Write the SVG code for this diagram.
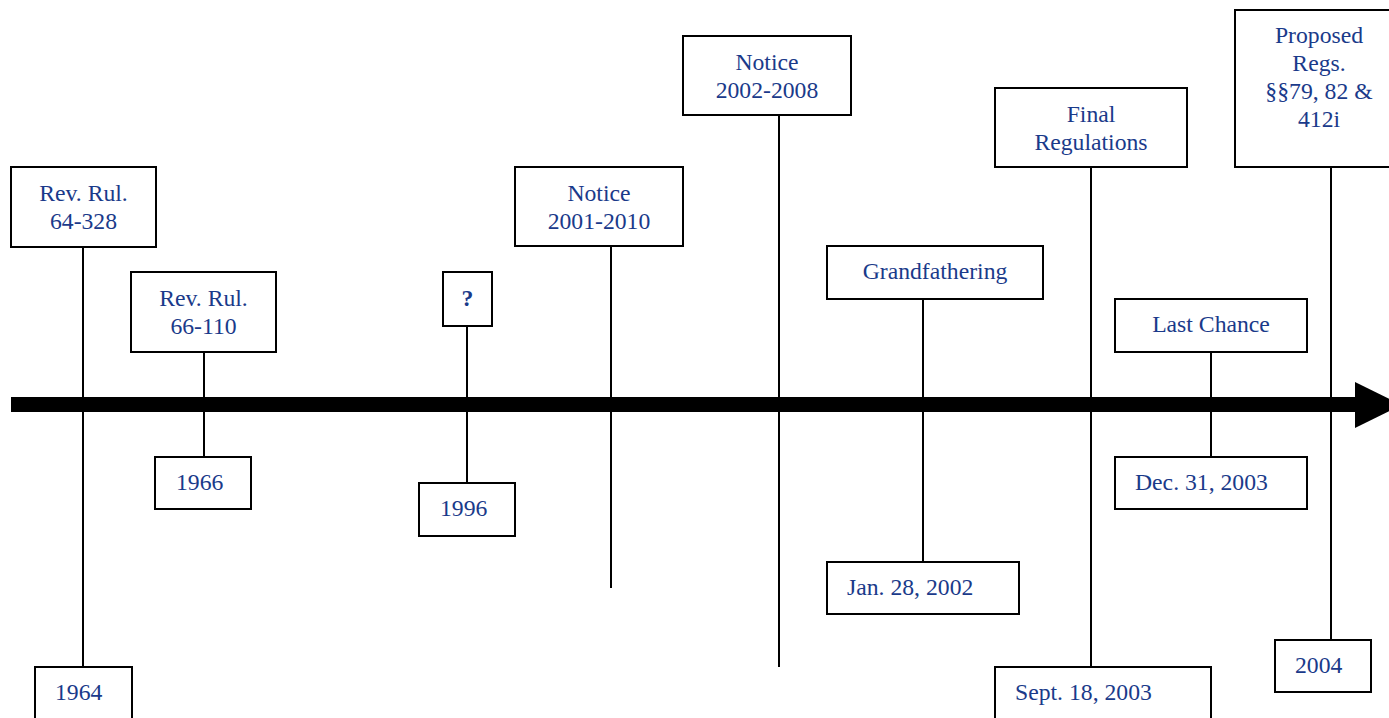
<svg xmlns="http://www.w3.org/2000/svg" width="1389" height="718" viewBox="0 0 1389 718">
<style>
.box{fill:#fff;stroke:#000;stroke-width:2}
.t{font-family:"Liberation Serif","Times New Roman",serif;font-size:23.7px;fill:#1a3a8a}
.c{text-anchor:middle}
.b{font-weight:bold}
.ln{stroke:#000;stroke-width:2;fill:none}
</style>
<rect width="1389" height="718" fill="#fff"/>
<g id="connectors">
<line class="ln" x1="83" y1="247" x2="83" y2="667"/>
<line class="ln" x1="204" y1="352" x2="204" y2="457"/>
<line class="ln" x1="467" y1="326" x2="467" y2="483"/>
<line class="ln" x1="611" y1="246" x2="611" y2="588"/>
<line class="ln" x1="779" y1="115" x2="779" y2="667"/>
<line class="ln" x1="923" y1="299" x2="923" y2="562"/>
<line class="ln" x1="1091" y1="167" x2="1091" y2="667"/>
<line class="ln" x1="1211" y1="352" x2="1211" y2="457"/>
<line class="ln" x1="1331" y1="167" x2="1331" y2="640"/>
</g>
<g id="timeline">
<line x1="11" y1="404.5" x2="1358" y2="404.5" stroke="#000" stroke-width="15"/>
<polygon points="1355,382 1402,405 1355,428" fill="#000"/>
</g>
<g id="n1964">
<rect class="box" x="11" y="167" width="145" height="80"/>
<text class="t c" x="83.5" y="201">Rev. Rul.</text>
<text class="t c" x="83.5" y="229">64-328</text>
<rect class="box" x="35" y="667" width="97" height="60"/>
<text class="t" x="55" y="700">1964</text>
</g>
<g id="n1966">
<rect class="box" x="131" y="272" width="145" height="80"/>
<text class="t c" x="203.5" y="306">Rev. Rul.</text>
<text class="t c" x="203.5" y="334">66-110</text>
<rect class="box" x="155" y="457" width="96" height="52"/>
<text class="t" x="176" y="490">1966</text>
</g>
<g id="n1996">
<rect class="box" x="443" y="272" width="49" height="54"/>
<text class="t c b" x="467.5" y="306">?</text>
<rect class="box" x="419" y="483" width="96" height="53"/>
<text class="t" x="440" y="516">1996</text>
</g>
<g id="notice2001">
<rect class="box" x="515" y="167" width="168" height="79"/>
<text class="t c" x="599" y="201">Notice</text>
<text class="t c" x="599" y="229">2001-2010</text>
</g>
<g id="notice2002">
<rect class="box" x="683" y="36" width="168" height="79"/>
<text class="t c" x="767" y="70">Notice</text>
<text class="t c" x="767" y="98">2002-2008</text>
</g>
<g id="grandfathering">
<rect class="box" x="827" y="246" width="216" height="53"/>
<text class="t c" x="935" y="279">Grandfathering</text>
<rect class="box" x="827" y="562" width="192" height="52"/>
<text class="t" x="847" y="595">Jan. 28, 2002</text>
</g>
<g id="final">
<rect class="box" x="995" y="88" width="192" height="79"/>
<text class="t c" x="1091" y="122">Final</text>
<text class="t c" x="1091" y="150">Regulations</text>
<rect class="box" x="995" y="667" width="216" height="60"/>
<text class="t" x="1015" y="700">Sept. 18, 2003</text>
</g>
<g id="lastchance">
<rect class="box" x="1115" y="299" width="192" height="53"/>
<text class="t c" x="1211" y="332">Last Chance</text>
<rect class="box" x="1115" y="457" width="192" height="52"/>
<text class="t" x="1135" y="490">Dec. 31, 2003</text>
</g>
<g id="proposed">
<rect class="box" x="1235" y="10" width="168" height="157"/>
<text class="t c" x="1319" y="43">Proposed</text>
<text class="t c" x="1319" y="71">Regs.</text>
<text class="t c" x="1319" y="99">§§79, 82 &amp;</text>
<text class="t c" x="1319" y="127">412i</text>
<rect class="box" x="1275" y="640" width="96" height="52"/>
<text class="t" x="1295" y="673">2004</text>
</g>
</svg>
